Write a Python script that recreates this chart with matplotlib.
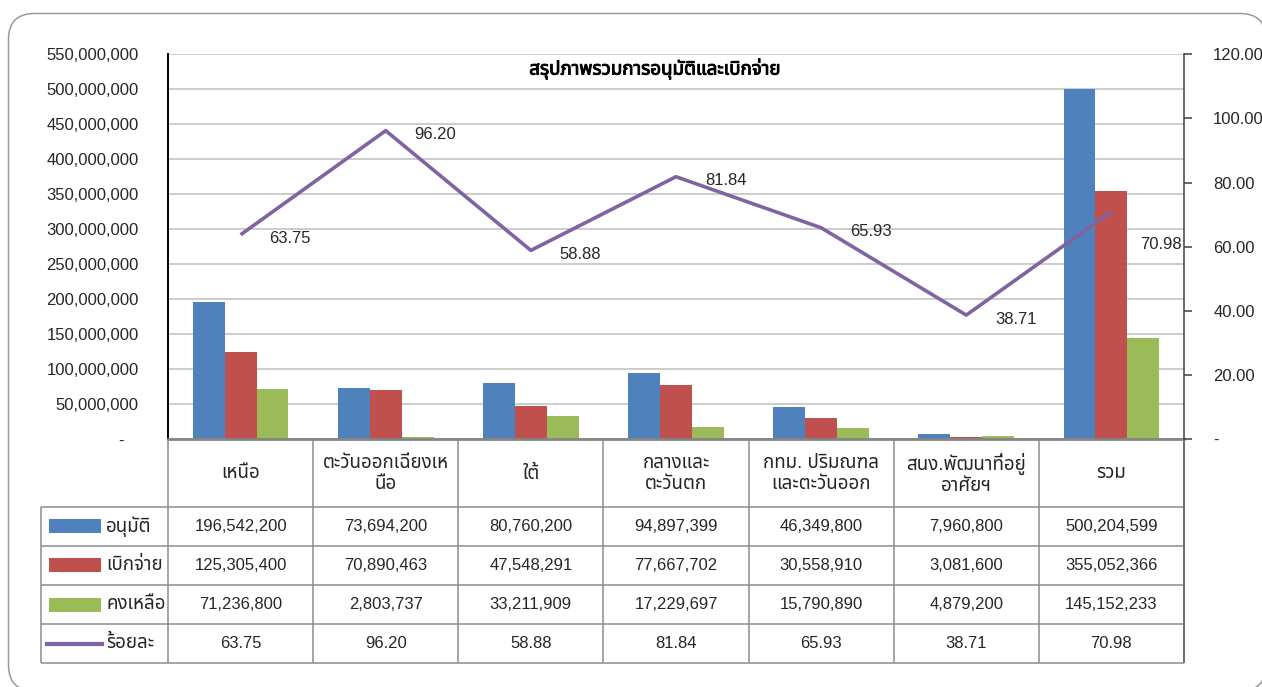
import numpy as np
import matplotlib
matplotlib.use("Agg")
import matplotlib.pyplot as plt
import matplotlib.patheffects as pe
from matplotlib import font_manager
from matplotlib.ft2font import FT2Font
from matplotlib.patches import FancyBboxPatch, Rectangle
from matplotlib.ticker import FuncFormatter, MultipleLocator

TITLE = "สรุปภาพรวมการอนุมัติและเบิกจ่าย"
REGIONS = ["เหนือ", "ตะวันออกเฉียงเห\nนือ", "ใต้", "กลางและ\nตะวันตก",
           "กทม. ปริมณฑล\nและตะวันออก", "สนง.พัฒนาที่อยู่\nอาศัยฯ", "รวม"]
SERIES = ["อนุมัติ", "เบิกจ่าย", "คงเหลือ"]
LINE_NAME = "ร้อยละ"
APPROVED = [196542200, 73694200, 80760200, 94897399, 46349800, 7960800, 500204599]
DISBURSED = [125305400, 70890463, 47548291, 77667702, 30558910, 3081600, 355052366]
REMAINING = [71236800, 2803737, 33211909, 17229697, 15790890, 4879200, 145152233]
PERCENT = [63.75, 96.20, 58.88, 81.84, 65.93, 38.71, 70.98]

COLORS = ["#4F81BD", "#C0504D", "#9BBB59"]
LINE_COLOR = "#8064A2"
TEXT = "#262626"
GRID = "#c4c4c4"
TABLE_LINE = "#8c8c8c"


def find_thai_font():
    preferred = ["Tahoma", "Leelawadee UI", "Noto Sans Thai", "Noto Sans Thai UI",
                 "Loma", "Garuda", "Sarabun", "Norasi", "Kinnari", "Umpush"]
    found = []
    for f in font_manager.fontManager.ttflist:
        try:
            if 0x0E01 in FT2Font(f.fname).get_charmap():
                found.append(f.name)
        except Exception:
            continue
    for name in preferred:
        if name in found:
            return name
    return found[0] if found else None


thai = find_thai_font()
plt.rcParams["font.family"] = ["Liberation Sans"] + ([thai] if thai else []) + ["DejaVu Sans"]
FS = 12      # numbers
FS_TH = 13.5  # Thai text

W, H = 1262, 687


def fig_rect(x0, y0, x1, y1):
    # pixel box (top-left origin) -> figure fraction
    return [x0 / W, 1 - y1 / H, (x1 - x0) / W, (y1 - y0) / H]


fig = plt.figure(figsize=(W / 100, H / 100), dpi=100)

# rounded outer frame
bg = fig.add_axes([0, 0, 1, 1], zorder=0)
bg.set_xlim(0, W)
bg.set_ylim(H, 0)
bg.axis("off")
bg.add_patch(FancyBboxPatch((8.5, 13.5), W + 4 - 8.5, H + 4 - 13.5,
                            boxstyle="round,pad=0,rounding_size=26",
                            fc="white", ec="#9a9a9a", lw=1.1, clip_on=False))

# --- chart ---
PL, PT, PR, PB = 168, 54.3, 1184, 439.3
ax = fig.add_axes(fig_rect(PL, PT, PR, PB), zorder=2)
ax.patch.set_alpha(0)
x = np.arange(len(REGIONS))
bw = 0.22
for i, (vals, c) in enumerate(zip([APPROVED, DISBURSED, REMAINING], COLORS)):
    ax.bar(x + (i - 1) * bw, vals, bw, color=c, edgecolor="none", zorder=3)

ax.set_xlim(-0.5, len(REGIONS) - 0.5)
ax.set_ylim(0, 550e6)
ax.yaxis.set_major_locator(MultipleLocator(50e6))
ax.yaxis.set_major_formatter(FuncFormatter(lambda v, p: "-   " if v == 0 else f"{v:,.0f}"))
ax.set_xticks([])
ax.grid(axis="y", color=GRID, lw=1.2, zorder=0)
ax.tick_params(axis="y", length=0, pad=21, labelsize=FS, labelcolor=TEXT)
for s in ("top", "right"):
    ax.spines[s].set_visible(False)
ax.spines["left"].set_color("black")
ax.spines["left"].set_linewidth(1.4)
ax.spines["bottom"].set_color("#858585")
ax.spines["bottom"].set_linewidth(2)
ax.spines["bottom"].set_zorder(5)

ax.text(0.479, 0.963, TITLE, transform=ax.transAxes, ha="center", va="center",
        fontsize=FS_TH, fontweight="bold", color="black",
        path_effects=[pe.withStroke(linewidth=0.7, foreground="black")])

ax2 = ax.twinx()
ax2.set_ylim(0, 120)
ax2.yaxis.set_major_locator(MultipleLocator(20))
ax2.yaxis.set_major_formatter(FuncFormatter(lambda v, p: "-" if v == 0 else f"{v:.2f}"))
ax2.tick_params(axis="y", direction="out", length=6, width=1.1, color="#404040",
                pad=15, labelsize=FS, labelcolor=TEXT)
for s in ("top", "left", "bottom"):
    ax2.spines[s].set_visible(False)
ax2.spines["right"].set_color("#404040")
ax2.spines["right"].set_linewidth(1.1)
ax2.plot(x, PERCENT, color=LINE_COLOR, lw=2.6, zorder=4, solid_capstyle="butt")
for i, v in enumerate(PERCENT):
    off = (29, -33) if i == len(PERCENT) - 1 else (29, -4)
    ax2.annotate(f"{v:.2f}", (x[i], v), xytext=off, textcoords="offset pixels",
                 ha="left", va="center", fontsize=FS, color=TEXT)

# --- data table ---
ppu = (PR - PL) / len(REGIONS)
first_w = PL - 41
TB = 663.3
tax = fig.add_axes(fig_rect(41, PB, PR, TB), zorder=1)
left = -0.5 - first_w / ppu
tax.set_xlim(left, len(REGIONS) - 0.5)
tax.set_ylim(TB - PB, 0)
tax.axis("off")

head_h = 67.4
row_h = (TB - PB - head_h) / 4
row_tops = [head_h + k * row_h for k in range(5)]
tax.hlines(row_tops, left, len(REGIONS) - 0.5, color=TABLE_LINE, lw=1.1, clip_on=False)
tax.vlines(np.arange(len(REGIONS) + 1) - 0.5, 0, TB - PB, color=TABLE_LINE, lw=1.1, clip_on=False)
tax.vlines([len(REGIONS) - 0.5], 0, TB - PB, color="#6a6a6a", lw=1.3, clip_on=False)
tax.vlines([left], head_h, TB - PB, color=TABLE_LINE, lw=1.1, clip_on=False)

for k, name in enumerate(REGIONS):
    tax.text(k, head_h / 2 + 1, name, ha="center", va="center", fontsize=FS_TH,
             color=TEXT, linespacing=1.25)

rows = [[f"{v:,.0f}" for v in APPROVED], [f"{v:,.0f}" for v in DISBURSED],
        [f"{v:,.0f}" for v in REMAINING], [f"{v:.2f}" for v in PERCENT]]
names = SERIES + [LINE_NAME]
for r, (vals, nm) in enumerate(zip(rows, names)):
    yc = row_tops[r] + row_h / 2
    for k, s in enumerate(vals):
        tax.text(k, yc, s, ha="center", va="center", fontsize=FS, color=TEXT)
    if r < 3:
        tax.add_patch(Rectangle((left + 8 / ppu, yc - 7), 52 / ppu, 14, color=COLORS[r], lw=0))
    else:
        tax.plot([left + 6 / ppu, left + 61 / ppu], [yc, yc], color=LINE_COLOR, lw=3)
    tax.text(left + 65 / ppu, yc, nm, ha="left", va="center", fontsize=FS_TH, color=TEXT)

fig.savefig("out.png", dpi=100)
